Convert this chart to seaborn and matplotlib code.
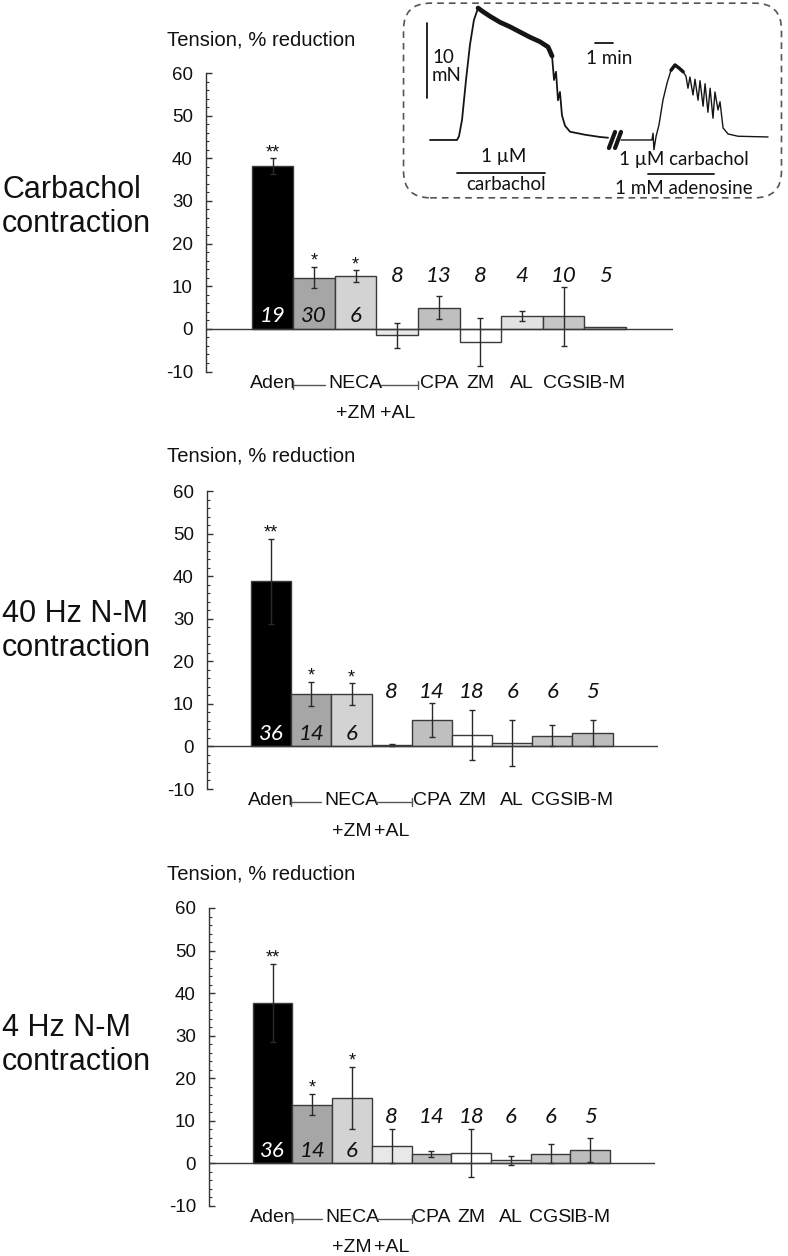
import numpy as np
import pandas as pd
import matplotlib
matplotlib.use("Agg")
import matplotlib.pyplot as plt
import matplotlib.transforms as mtransforms
from matplotlib.patches import FancyBboxPatch
from matplotlib.ticker import MultipleLocator
import seaborn as sns

# ---------------- data ----------------
categories = ["Aden", "NECA", "NECA+ZM", "NECA+AL", "CPA", "ZM", "AL", "CGS", "IB-M"]
tick_labels = ["Aden", "", "NECA", "", "CPA", "ZM", "AL", "CGS", "IB-M"]
sub_labels = {2: "+ZM", 3: "+AL"}
bar_colors = ["#000000", "#a6a6a6", "#d3d3d3", "#e8e8e8", "#bfbfbf",
              "#ffffff", "#e2e2e2", "#c6c6c6", "#bdbdbd"]

panel_titles = ["Carbachol\ncontraction", "40 Hz N-M\ncontraction", "4 Hz N-M\ncontraction"]

carb_mean = [38.2, 12.0, 12.3, -1.5, 5.0, -3.0, 3.1, 2.9, 0.5]
carb_sem = [1.8, 2.5, 1.4, 2.9, 2.6, 5.6, 1.2, 6.9, 0.0]
carb_n = [19, 30, 6, 8, 13, 8, 4, 10, 5]
carb_sig = ["**", "*", "*", "", "", "", "", "", ""]

hz40_mean = [38.8, 12.3, 12.3, 0.3, 6.1, 2.7, 0.9, 2.5, 3.2]
hz40_sem = [10.0, 2.8, 2.5, 0.2, 4.0, 5.9, 5.4, 2.5, 3.0]
hz40_n = [36, 14, 6, 8, 14, 18, 6, 6, 5]
hz40_sig = ["**", "*", "*", "", "", "", "", "", ""]

hz4_mean = [37.7, 13.8, 15.4, 4.2, 2.3, 2.5, 0.7, 2.3, 3.1]
hz4_sem = [9.1, 2.5, 7.3, 4.0, 0.7, 5.7, 1.0, 2.2, 2.8]
hz4_n = [36, 14, 6, 8, 14, 18, 6, 6, 5]
hz4_sig = ["**", "*", "*", "", "", "", "", "", ""]

y_ticks = [-10, 0, 10, 20, 30, 40, 50, 60]

# inset trace (time in min, tension in mN)
trace1_t = [0.00, 1.50, 1.61, 1.78, 2.00, 2.22, 2.44, 2.67, 2.89, 3.33, 3.89, 4.44, 5.00,
            5.56, 6.11, 6.56, 6.78, 6.89, 7.00, 7.11, 7.22, 7.33, 7.50, 7.78, 8.61, 9.44, 9.89]
trace1_f = [0.0, 0.0, 0.5, 2.7, 8.0, 12.7, 16.0, 17.6, 17.2, 16.5, 15.7, 15.1, 14.4,
            13.7, 13.1, 12.4, 11.2, 8.0, 9.1, 5.3, 6.4, 3.3, 1.9, 1.1, 0.7, 0.4, 0.3]
trace2_t = [10.61, 12.33, 12.39, 12.44, 12.56, 12.72, 12.94, 13.17, 13.39, 13.61, 13.83,
            14.06, 14.22, 14.33, 14.44, 14.61, 14.72, 14.89, 15.00, 15.17, 15.28, 15.44,
            15.56, 15.72, 15.83, 16.00, 16.11, 16.28, 16.56, 17.11, 18.78]
trace2_f = [0.0, 0.0, 0.9, -1.3, 0.5, 2.0, 5.3, 7.6, 9.3, 10.0, 9.6,
            9.1, 8.5, 6.9, 8.4, 6.0, 8.1, 5.3, 7.9, 4.5, 7.5, 3.7,
            6.9, 2.9, 6.4, 4.0, 5.1, 1.6, 0.8, 0.5, 0.4]

# ---------------- style ----------------
sns.set_theme(style="white")
plt.rcParams["font.family"] = ["Liberation Sans", "DejaVu Sans"]

W, H = 788, 1256
fig = plt.figure(figsize=(W / 100, H / 100), dpi=100)


def px_axes(left, right, top, bottom):
    return fig.add_axes([left / W, 1 - bottom / H, (right - left) / W, (bottom - top) / H])


panels = [
    (carb_mean, carb_sem, carb_n, carb_sig),
    (hz40_mean, hz40_sem, hz40_n, hz40_sig),
    (hz4_mean, hz4_sem, hz4_n, hz4_sig),
]
panel_boxes = [(206, 673, 73, 371.5), (207, 658, 491, 789), (209, 655, 908, 1206)]
title_y = [207, 631, 1045]
tension_y = [40, 456, 874]
n_above_base = [11.1, 11.3, 9.6]
n_inside_base = 1.6

edge = "#3a3a3a"
num_font = dict(family=["Lato", "DejaVu Sans"], style="italic", fontsize=16)

for k, ((mean, sem, n, sig), box) in enumerate(zip(panels, panel_boxes)):
    left, right, top, bottom = box
    ax = px_axes(left, right, top, bottom)
    df = pd.DataFrame({"treatment": categories, "value": mean})
    sns.barplot(data=df, x="treatment", y="value", hue="treatment",
                order=categories, hue_order=categories, palette=bar_colors,
                saturation=1, width=1.0, edgecolor=edge, linewidth=1.0,
                errorbar=None, legend=False, ax=ax, zorder=2)
    xs = np.arange(len(categories))
    sem_arr = np.array(sem)
    mask = sem_arr > 0
    ax.errorbar(xs[mask], np.array(mean)[mask], yerr=sem_arr[mask], fmt="none",
                ecolor="#2a2a2a", elinewidth=1.0, capsize=2.5, capthick=1.0, zorder=3)
    ax.axhline(0, color="#3a3a3a", lw=1.0, zorder=4)

    ax.set_xlim(-1.6, 9.63)
    ax.set_ylim(-10, 60)
    ax.set_yticks(y_ticks)
    ax.set_yticklabels([str(v) for v in y_ticks])
    ax.yaxis.set_minor_locator(MultipleLocator(2))
    ax.tick_params(axis="y", which="major", direction="in", length=4.5, width=1,
                   color="#333333", pad=9.4, labelsize=13.5, left=True, labelcolor="#111111")
    ax.tick_params(axis="y", which="minor", direction="in", length=2.5, width=0.8,
                   color="#333333", left=True)
    ax.set_xticks(xs)
    ax.set_xticklabels(tick_labels)
    ax.tick_params(axis="x", length=0, pad=2.2, labelsize=14, labelcolor="#111111")
    for s in ["top", "right", "bottom"]:
        ax.spines[s].set_visible(False)
    ax.spines["left"].set_color("#333333")
    ax.spines["left"].set_linewidth(1.0)
    ax.set_xlabel("")
    ax.set_ylabel("")
    ax.grid(False)

    # bracket around NECA group and sub labels
    h_ax = bottom - top
    trans = mtransforms.blended_transform_factory(ax.transData, ax.transAxes)
    yrow = -13.0 / h_ax
    dv = 4.0 / h_ax
    br = dict(color="#555555", lw=1.0, transform=trans, clip_on=False)
    ax.plot([0.5, 1.25], [yrow, yrow], **br)
    ax.plot([0.5, 0.5], [yrow - dv, yrow + dv], **br)
    ax.plot([2.6, 3.5], [yrow, yrow], **br)
    ax.plot([3.5, 3.5], [yrow - dv, yrow + dv], **br)
    for xi, lab in sub_labels.items():
        ax.text(xi, -42.0 / h_ax, lab, transform=trans, ha="center", va="center",
                fontsize=14, color="#111111")

    # n numbers and significance stars
    for i in range(len(categories)):
        if i < 3:
            ax.text(i, n_inside_base, str(n[i]), ha="center", va="baseline",
                    color="white" if i == 0 else "#111111", zorder=5, **num_font)
        else:
            ax.text(i, n_above_base[k], str(n[i]), ha="center", va="baseline",
                    color="#111111", zorder=5, **num_font)
        if sig[i]:
            ax.text(i, mean[i] + sem[i] + 0.3, sig[i], ha="center", va="baseline",
                    fontsize=13, color="#111111")

    # figure-level labels
    fig.text(167 / W, 1 - tension_y[k] / H, "Tension, % reduction", ha="left",
             va="center", fontsize=14.6, color="#111111")
    fig.text(2 / W, 1 - title_y[k] / H, panel_titles[k], ha="left", va="center",
             fontsize=22, color="#111111", linespacing=1.2)

# ---------------- inset ----------------
ins = px_axes(402, 783, 2, 199)
ins.set_xlim(-1.556, 19.61)
ins.set_ylim(-7.87, 18.4)
ins.axis("off")
tr = "#151515"
ins.plot(trace1_t, trace1_f, color=tr, lw=1.3)
ins.plot(trace1_t[7:17], trace1_f[7:17], color=tr, lw=3.4, solid_capstyle="round")
ins.plot(trace2_t, trace2_f, color=tr, lw=1.0)
ins.plot(trace2_t[8:12], trace2_f[8:12], color=tr, lw=2.5, solid_capstyle="round")
# break marks
ins.plot([9.94, 10.28], [-1.07, 1.07], color=tr, lw=3)
ins.plot([10.28, 10.61], [-1.07, 1.07], color=tr, lw=3)
# scale bars
ins.plot([-0.17, -0.17], [5.6, 15.6], color=tr, lw=1.3)
ins.plot([9.17, 10.17], [12.93, 12.93], color=tr, lw=1.3)
ins_font = dict(family=["Lato", "DejaVu Sans"], fontsize=13.5, color="#111111")
ins.text(0.11, 9.8, "10\nmN", ha="left", va="center", linespacing=1.05, **ins_font)
ins.text(9.94, 10.8, "1 min", ha="center", va="center", **ins_font)
# application bars
ins.plot([1.5, 6.4], [-4.4, -4.4], color=tr, lw=1.3)
ins.text(4.1, -2.2, "1 \u00b5M", ha="center", va="center", **ins_font)
ins.text(4.2, -5.9, "carbachol", ha="center", va="center", **ins_font)
ins.plot([12.1, 15.8], [-4.5, -4.5], color=tr, lw=1.3)
ins.text(14.1, -2.6, "1 \u00b5M carbachol", ha="center", va="center", **ins_font)
ins.text(14.1, -6.5, "1 mM adenosine", ha="center", va="center", **ins_font)
box = FancyBboxPatch((0.004, 0.006), 0.992, 0.988,
                     boxstyle="round,pad=0,rounding_size=0.07", mutation_aspect=1.93,
                     transform=ins.transAxes, fill=False, linestyle=(0, (4, 3)),
                     edgecolor="#555555", lw=1.2, clip_on=False)
ins.add_patch(box)

fig.savefig("out.png", dpi=100, facecolor="white")
